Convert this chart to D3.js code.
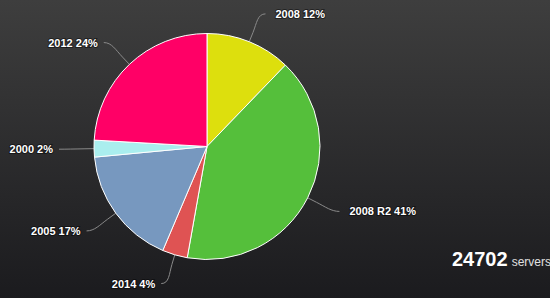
<!DOCTYPE html>
<html><head><meta charset="utf-8">
<script src="https://cdn.jsdelivr.net/npm/d3@7"></script>
<style>
html,body{margin:0;padding:0;overflow:hidden;background:#2a2a2b;}
svg{display:block;}
</style></head>
<body>
<svg id="chart" width="550" height="298"></svg>
<script>
// ---- data ----
const categories = ["2008", "2008 R2", "2014", "2005", "2000", "2012"];
const servers = [3014, 10029, 889, 4224, 593, 5953];
const colors = ["#DDDF0D", "#55BF3B", "#DF5353", "#7798BF", "#aaeeee", "#ff0066"];
const totalLabel = "24702";
const unitLabel = "servers";

const W = 550, H = 298;
const svg = d3.select("#chart");
const defs = svg.append("defs");
const grad = defs.append("linearGradient").attr("id", "bg").attr("x1", 0).attr("y1", 0).attr("x2", 0).attr("y2", 1);
grad.append("stop").attr("offset", "0%").attr("stop-color", "#3e3e3e");
grad.append("stop").attr("offset", "100%").attr("stop-color", "#1b1b1e");
svg.append("rect").attr("width", W).attr("height", H).attr("fill", "url(#bg)");

const cx = 207, cy = 146.5, r = 113, dist = 30;
const total = d3.sum(servers);
const data = categories.map((c, i) => ({name: c, value: servers[i], color: colors[i]}));
const pie = d3.pie().value(d => d.value).sort(null);
const arcs = pie(data);
const arc = d3.arc().innerRadius(0).outerRadius(r);

const g = svg.append("g").attr("transform", `translate(${cx},${cy})`);

// connectors
const pt = (a, rad) => [rad * Math.sin(a), -rad * Math.cos(a)];
const labelInfo = arcs.map(d => {
  const a = (d.startAngle + d.endAngle) / 2;
  const right = Math.sin(a) >= 0;
  const dir = right ? 1 : -1;
  const base = pt(a, r);
  const brk = pt(a, r + 10);
  const anc = pt(a, r + dist);
  anc[0] += dir * 5;
  return {d, a, dir, right, base, brk, anc};
});

g.selectAll("path.conn").data(labelInfo).enter().append("path")
  .attr("class", "conn")
  .attr("fill", "none").attr("stroke", "#8a8a8a").attr("stroke-width", 1)
  .attr("d", o => {
    const c2 = [2 * o.brk[0] - o.base[0], 2 * o.brk[1] - o.base[1]];
    return `M${o.anc[0]},${o.anc[1]} C${o.anc[0] - o.dir * 8},${o.anc[1]} ${c2[0]},${c2[1]} ${o.brk[0]},${o.brk[1]} L${o.base[0]},${o.base[1]}`;
  });

g.selectAll("path.slice").data(arcs).enter().append("path")
  .attr("class", "slice")
  .attr("d", arc).attr("fill", d => d.data.color)
  .attr("stroke", "#ffffff").attr("stroke-width", 1).attr("stroke-linejoin", "round");

g.selectAll("text.lbl").data(labelInfo).enter().append("text")
  .attr("class", "lbl")
  .attr("x", o => o.anc[0] + (o.right ? 10 : -6))
  .attr("y", o => o.anc[1] + 4)
  .attr("text-anchor", o => o.right ? "start" : "end")
  .attr("font-family", "'Liberation Sans', Arial, sans-serif")
  .attr("font-size", 11).attr("font-weight", "bold")
  .attr("fill", "#ffffff")
  .attr("stroke", "rgba(0,0,0,0.45)").attr("stroke-width", 2).attr("paint-order", "stroke")
  .text(o => `${o.d.data.name} ${Math.round(o.d.data.value / total * 100)}%`);

const tot = svg.append("text").attr("x", 452).attr("y", 266)
  .attr("font-family", "'Liberation Sans', Arial, sans-serif");
tot.append("tspan").attr("font-size", 20).attr("font-weight", "bold").attr("fill", "#ffffff").text(totalLabel);
tot.append("tspan").attr("dx", 4).attr("font-size", 12).attr("fill", "#e0e0e0").text(unitLabel);
</script>
</body></html>
